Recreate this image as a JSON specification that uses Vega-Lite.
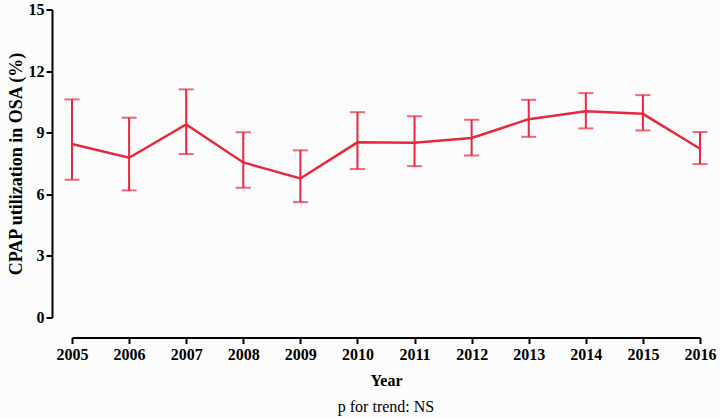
{
  "$schema": "https://vega.github.io/schema/vega-lite/v6.json",
  "width": 628,
  "height": 308,
  "autosize": "none",
  "padding": {"left": 72, "top": 9.5, "right": 20, "bottom": 100},
  "background": "#fcfcfc",
  "title": {
    "text": "p for trend: NS",
    "orient": "bottom",
    "anchor": "middle",
    "font": "Liberation Serif",
    "fontSize": 16,
    "fontWeight": "normal",
    "color": "#000000",
    "offset": 10
  },
  "config": {
    "view": {"stroke": null},
    "axis": {
      "labelFont": "Liberation Serif",
      "titleFont": "Liberation Serif",
      "labelFontWeight": "bold",
      "titleFontWeight": "bold",
      "labelFontSize": 16,
      "titleFontSize": 16,
      "labelColor": "#000000",
      "titleColor": "#000000",
      "domainColor": "#000000",
      "tickColor": "#000000",
      "domainWidth": 2,
      "tickWidth": 2,
      "tickSize": 6,
      "grid": false
    }
  },
  "data": {
    "values": [
      {"year": 2005, "pct": 8.45, "lo": 6.71, "hi": 10.62},
      {"year": 2006, "pct": 7.78, "lo": 6.19, "hi": 9.73},
      {"year": 2007, "pct": 9.40, "lo": 7.96, "hi": 11.11},
      {"year": 2008, "pct": 7.55, "lo": 6.32, "hi": 9.02},
      {"year": 2009, "pct": 6.77, "lo": 5.62, "hi": 8.14},
      {"year": 2010, "pct": 8.53, "lo": 7.23, "hi": 10.00},
      {"year": 2011, "pct": 8.51, "lo": 7.37, "hi": 9.80},
      {"year": 2012, "pct": 8.74, "lo": 7.89, "hi": 9.63},
      {"year": 2013, "pct": 9.66, "lo": 8.80, "hi": 10.60},
      {"year": 2014, "pct": 10.05, "lo": 9.21, "hi": 10.93},
      {"year": 2015, "pct": 9.92, "lo": 9.11, "hi": 10.83},
      {"year": 2016, "pct": 8.22, "lo": 7.47, "hi": 9.03}
    ]
  },
  "encoding": {
    "x": {
      "field": "year",
      "type": "quantitative",
      "scale": {"domain": [2005, 2016], "nice": false, "zero": false},
      "axis": {
        "title": "Year",
        "values": [2005, 2006, 2007, 2008, 2009, 2010, 2011, 2012, 2013, 2014, 2015, 2016],
        "format": "d",
        "offset": 20,
        "labelPadding": 3,
        "titlePadding": 10,
        "labelFlush": false
      }
    }
  },
  "layer": [
    {
      "mark": {"type": "rule", "color": "#e8283c", "strokeWidth": 2},
      "encoding": {
        "y": {"field": "lo", "type": "quantitative"},
        "y2": {"field": "hi"}
      }
    },
    {
      "mark": {"type": "tick", "color": "#e8283c", "size": 15, "thickness": 2, "orient": "horizontal"},
      "encoding": {
        "y": {"field": "lo", "type": "quantitative"}
      }
    },
    {
      "mark": {"type": "tick", "color": "#e8283c", "size": 15, "thickness": 2, "orient": "horizontal"},
      "encoding": {
        "y": {"field": "hi", "type": "quantitative"}
      }
    },
    {
      "mark": {"type": "line", "color": "#e8283c", "strokeWidth": 2.5},
      "encoding": {
        "y": {
          "field": "pct",
          "type": "quantitative",
          "scale": {"domain": [0, 15], "nice": false},
          "axis": {
            "title": "CPAP utilization in OSA (%)",
            "titleFontSize": 18,
            "values": [0, 3, 6, 9, 12, 15],
            "offset": 20,
            "labelPadding": 2,
            "titlePadding": 3
          }
        }
      }
    }
  ]
}
